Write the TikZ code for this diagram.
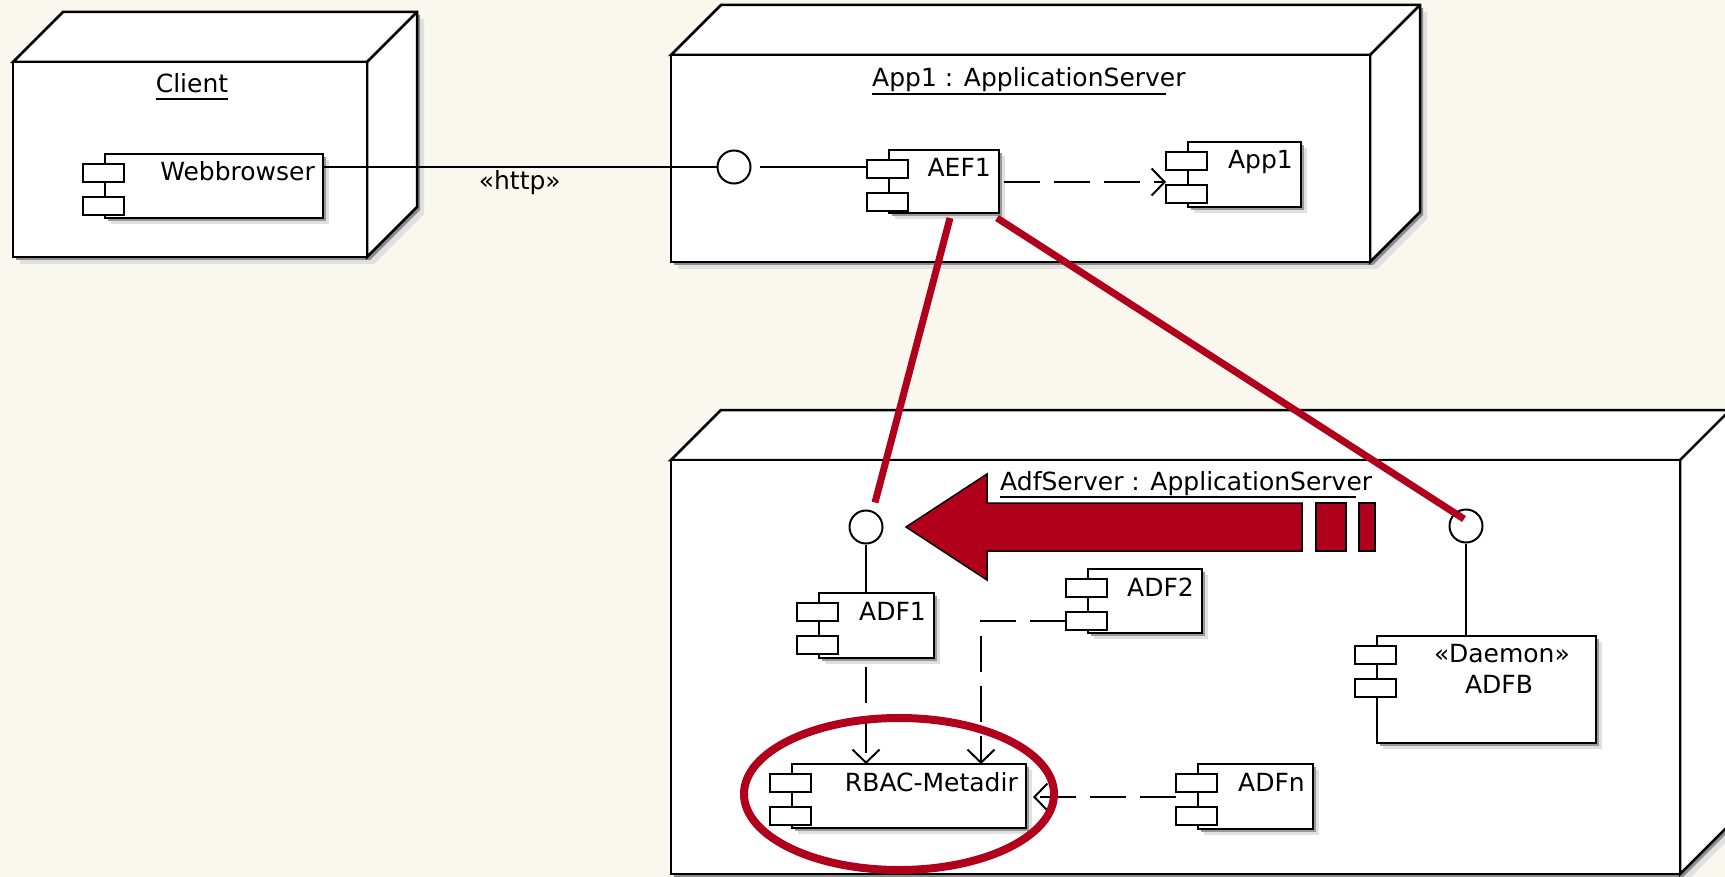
\documentclass[tikz,border=0pt]{standalone}
\usepackage{fontspec}
\setmainfont{DejaVu Sans}
\usetikzlibrary{calc,fit,arrows.meta}
\definecolor{paper}{RGB}{249,247,238}
\definecolor{alert}{RGB}{176,0,28}

\tikzset{
  box/.style={draw=black, line width=2.5pt, fill=white, line join=miter},
  compbox/.style={rectangle, draw=black, line width=2pt, fill=white, inner sep=0pt, outer sep=0pt},
  iface/.style={circle, draw=black, fill=white, line width=2pt, minimum size=33pt, inner sep=0pt},
  wire/.style={line width=2pt},
  dep/.style={line width=2pt, dash pattern=on 36pt off 14pt,
    -{Straight Barb[length=13pt,width=27pt]}},
  redline/.style={draw=alert, line width=7pt},
  bigarrow/.style={fill=alert, draw=black, line width=1.5pt, line join=miter},
}

% 3D deployment node: #1 name, #2 left, #3 top, #4 right, #5 bottom (depth 50)
\newcommand\deploynode[5]{%
  \fill[black!12] (#2+7,#3+7) -- (#2+57,#3-43) -- (#4+57,#3-43) -- (#4+57,#5-43) -- (#4+7,#5+7) -- (#2+7,#5+7) -- cycle;
  \fill[black!45] (#2+3,#3+3) -- (#2+53,#3-47) -- (#4+53,#3-47) -- (#4+53,#5-47) -- (#4+3,#5+3) -- (#2+3,#5+3) -- cycle;
  \filldraw[box] (#2,#3) -- (#2+50,#3-50) -- (#4+50,#3-50) -- (#4+50,#5-50) -- (#4,#5) -- (#4,#3) -- cycle;
  \draw[box] (#4,#3) -- (#4+50,#3-50);
  \node[box, rectangle, inner sep=0pt, fit={(#2,#3) (#4,#5)}] (#1) {};
}

% UML component: #1 name, #2 left, #3 top, #4 right, #5 bottom, #6 title
\newcommand\umlcomp[6]{%
  \fill[black!12] (#2+6,#3+6) rectangle (#4+6,#5+6);
  \fill[black!40] (#2+3,#3+3) rectangle (#4+3,#5+3);
  \node[compbox, fit={(#2,#3) (#4,#5)}] (#1) {};
  \node[compbox, fit={(#2-22,#3+10) (#2+19,#3+28)}] (#1-a) {};
  \node[compbox, fit={(#2-22,#3+43) (#2+19,#3+61)}] (#1-b) {};
  \node[anchor=base east] at ($(#1.north east)+(-8,27)$) {#6};
}

\begin{document}
\begin{tikzpicture}[x=1pt, y=-1pt,
  every node/.style={font=\fontsize{25}{30}\selectfont, inner sep=0pt}]
\clip (0,0) rectangle (1725,877);
\fill[paper] (0,0) rectangle (1725,877);

% deployment nodes
\deploynode{client}{13}{62}{367}{257}
\deploynode{appsrv}{671}{55}{1370}{262}
\deploynode{adfsrv}{671}{460}{1680}{874}

% node titles
\node[anchor=base] (clientlbl) at (192,93) {Client};
\draw[line width=2pt] ($(clientlbl.base west)+(0,6)$) -- ($(clientlbl.base east)+(0,6)$);
\node[anchor=base west] (appsrvlbl) at (872,87) {App1 : ApplicationServer};
\draw[line width=2pt] ($(appsrvlbl.base west)+(0,7)$) -- ($(appsrvlbl.base west)+(294,7)$);
\node[anchor=base west] (adfsrvlbl) at (1000,490) {AdfServer : ApplicationServer};
\draw[line width=2pt] ($(adfsrvlbl.base west)+(0,7)$) -- ($(adfsrvlbl.base west)+(356,7)$);

% components
\umlcomp{web}{105}{154}{323}{218}{Webbrowser}
\umlcomp{aef1}{889}{150}{999}{213}{AEF1}
\umlcomp{app1}{1188}{142}{1301}{207}{App1}
\umlcomp{adf1}{819}{593}{934}{658}{ADF1}
\umlcomp{adf2}{1088}{569}{1202}{633}{ADF2}
\umlcomp{rbac}{792}{764}{1026}{828}{RBAC-Metadir}
\umlcomp{adfn}{1198}{764}{1313}{829}{ADFn}
\umlcomp{adfb}{1377}{636}{1596}{743}{}
\node[anchor=base] (adfbst) at ($(adfb.north west)+(125,26)$) {«Daemon»};
\node[anchor=base] (adfbname) at ($(adfb.north west)+(122,57)$) {ADFB};

% provided interfaces
\node[iface] (if1) at (734,167) {};
\node[iface] (if2) at (866,527) {};
\node[iface] (if3) at (1466,526) {};

% connectors
\draw[wire] (web.east |- if1) -- (if1.west)
  node[midway, below=3pt] {«http»};
\draw[wire, shorten <=8pt] (if1.east) -- (aef1-a.west |- if1.east);
\draw[dep] ($(aef1.north east)+(5,32)$) -- ($(app1-a.west |- aef1.north east)+(0,32)$);
\draw[wire] (if2.south) -- (if2.south |- adf1.north);
\draw[wire] (if3.south) -- (if3.south |- adfb.north);
\draw[dep] ($(if2.south |- adf1.south)+(0,9)$) -- (if2.south |- rbac.north);
\draw[dep] (adf2-b.west) -| ($(rbac.north west)+(189,0)$);
\draw[dep] ($(adfn-a.west)+(0,14)$) -- ($(rbac.east |- adfn-a.west)+(7,14)$);

% highlighted links
\draw[redline] ($(aef1.south)+(6,5)$) -- ($(if2.north)+(9,-7)$);
\draw[redline] ($(aef1.south east)+(-2,5)$) -- ($(if3.center)+(-2,-7)$);

% big arrow pointing at the left interface
\filldraw[bigarrow] (906,527) -- (987,474) -- (987,503) -- (1302,503) -- (1302,551) -- (987,551) -- (987,580) -- cycle;
\filldraw[bigarrow] (1316,503) rectangle (1346,551);
\filldraw[bigarrow] (1359,503) rectangle (1375,551);

% ring around the metadata directory
\draw[alert, line width=8pt] (899,794) ellipse [x radius=155, y radius=76];
\end{tikzpicture}
\end{document}
